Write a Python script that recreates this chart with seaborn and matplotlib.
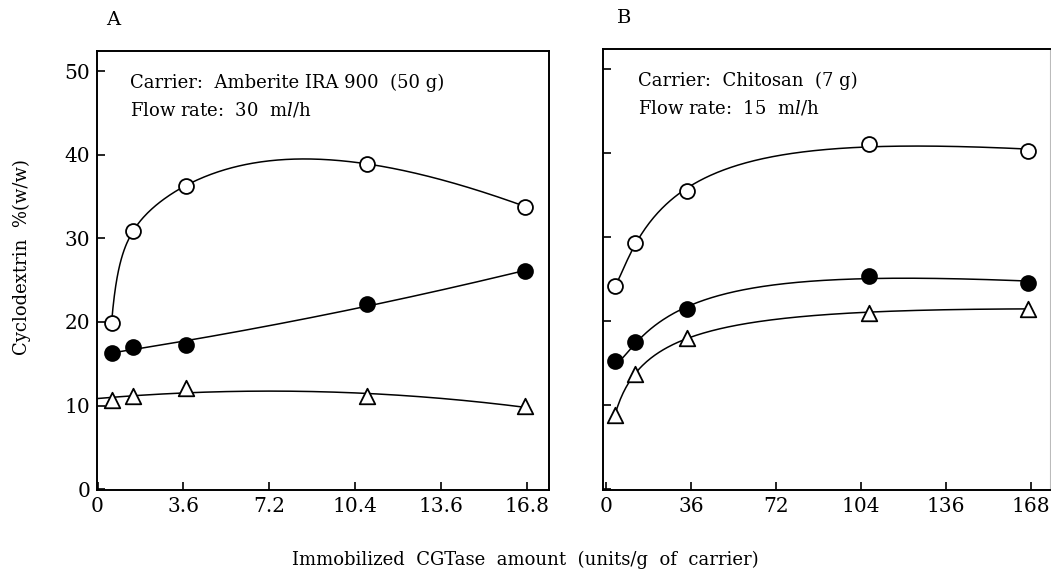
import numpy as np
import pandas as pd
import seaborn as sns
import matplotlib
matplotlib.use('Agg')
import matplotlib.pyplot as plt

# values
A_X = [0.55, 1.4, 3.45, 10.55, 16.75]
A_OPEN = [19.9, 30.9, 36.3, 38.9, 33.8]
A_FILLED = [16.3, 17.0, 17.3, 22.1, 26.1]
A_TRI = [10.7, 11.1, 12.1, 11.1, 9.9]

B_X = [3.5, 11.5, 32.0, 104.0, 167.0]
B_OPEN = [24.2, 29.3, 35.5, 41.1, 40.3]
B_FILLED = [15.2, 17.5, 21.4, 25.4, 24.6]
B_TRI = [8.8, 13.7, 18.0, 21.0, 21.5]

A_TICK_LABELS = ["0", "3.6", "7.2", "10.4", "13.6", "16.8"]
B_TICK_LABELS = ["0", "36", "72", "104", "136", "168"]
Y_TICKS = [0, 10, 20, 30, 40, 50]

sns.set_style("ticks")
plt.rcParams['font.family'] = ['DejaVu Serif']
plt.rcParams['mathtext.fontset'] = 'dejavuserif'
plt.rcParams['text.color'] = 'black'
plt.rcParams['xtick.color'] = 'black'
plt.rcParams['ytick.color'] = 'black'
FS = 13


def smooth(x, y, scale, deg, x_from):
    # least-squares curve through the points, like the hand fitted lines
    x = np.asarray(x, float)
    u = np.log(x) if scale == "log" else x
    coef = np.polyfit(u, y, deg)
    xs = np.linspace(x_from, x.max(), 300)
    us = np.log(xs) if scale == "log" else xs
    return pd.DataFrame({"x": xs, "y": np.polyval(coef, us)})


def panel(ax, xs, series, xmax_tick, xlim, tick_labels, show_ylabels):
    for y, style, scale, deg, x_from in series:
        curve = smooth(xs, y, scale, deg, x_from if x_from is not None else xs[0])
        sns.lineplot(data=curve, x="x", y="y", ax=ax, color="black", lw=1.1, zorder=2)
    for y, style, scale, deg, x_from in series:
        pts = pd.DataFrame({"x": xs, "y": y})
        marker, face = style
        sns.scatterplot(data=pts, x="x", y="y", ax=ax, marker=marker, s=115 if marker == "o" else 125,
                        facecolor=face, edgecolor="black", linewidth=1.3, zorder=3)
    ax.set_xlim(*xlim)
    ax.set_ylim(-0.1, 52.4)
    ax.set_xticks(np.linspace(0, xmax_tick, 6))
    ax.set_xticklabels(tick_labels, fontsize=FS + 1.5)
    ax.set_yticks(Y_TICKS)
    if show_ylabels:
        ax.set_yticklabels([str(t) for t in Y_TICKS], fontsize=FS + 1.5)
    else:
        ax.set_yticklabels([])
    ax.tick_params(direction="in", length=6, width=1.2, pad=5)
    ax.set_xlabel("")
    ax.set_ylabel("")
    for s in ax.spines.values():
        s.set_visible(True)
        s.set_linewidth(1.4)
        s.set_color("black")


fig = plt.figure(figsize=(10.51, 5.75), dpi=100)
axA = fig.add_axes([0.0923, 0.1478, 0.4301, 0.7635])
axB = fig.add_axes([0.5737, 0.1478, 0.4253, 0.767])

panel(axA, A_X,
      [(A_OPEN, ("o", "white"), "log", 4, None),
       (A_FILLED, ("o", "black"), "lin", 2, None),
       (A_TRI, ("^", "white"), "lin", 2, 0.0)],
      16.8, (-0.02, 17.68), A_TICK_LABELS, True)
panel(axB, B_X,
      [(B_OPEN, ("o", "white"), "log", 3, None),
       (B_FILLED, ("o", "black"), "log", 3, None),
       (B_TRI, ("^", "white"), "log", 3, None)],
      168, (-1.2, 175.5), B_TICK_LABELS, False)
axB.spines["right"].set_color("#bbbbbb")
axB.spines["right"].set_linewidth(0.8)

axA.text(0.073, 0.927, "Carrier:  Amberite IRA 900  (50 g)", transform=axA.transAxes,
         fontsize=FS, va="center", ha="left")
axA.text(0.073, 0.866, "Flow rate:  30  m$\\mathit{l}$/h", transform=axA.transAxes,
         fontsize=FS, va="center", ha="left")
axB.text(0.078, 0.927, "Carrier:  Chitosan  (7 g)", transform=axB.transAxes,
         fontsize=FS, va="center", ha="left")
axB.text(0.078, 0.866, "Flow rate:  15  m$\\mathit{l}$/h", transform=axB.transAxes,
         fontsize=FS, va="center", ha="left")

fig.text(113 / 1051, 1 - 20 / 575, "A", fontsize=FS + 1, ha="center", va="center")
fig.text(624 / 1051, 1 - 18 / 575, "B", fontsize=FS + 1, ha="center", va="center")
fig.text(22 / 1051, 1 - 257 / 575, "Cyclodextrin  %(w/w)", fontsize=FS, rotation=90,
         ha="center", va="center")
fig.text(525 / 1051, 1 - 560 / 575, "Immobilized  CGTase  amount  (units/g  of  carrier)",
         fontsize=FS, ha="center", va="center")

fig.savefig("out.png", dpi=100)
